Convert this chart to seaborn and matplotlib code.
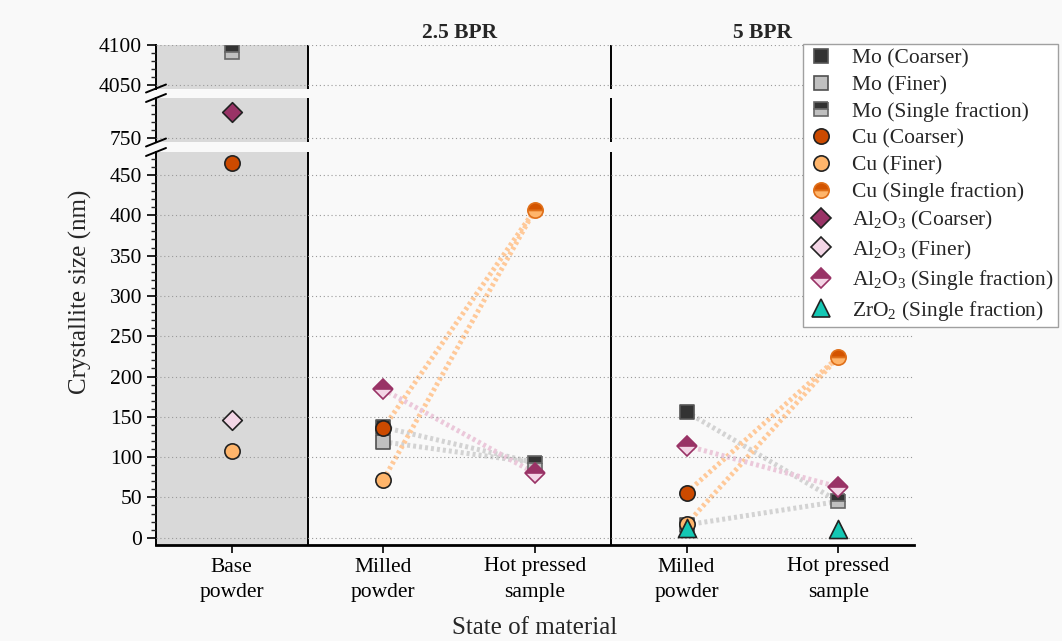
import numpy as np
import pandas as pd
import matplotlib.pyplot as plt
import seaborn as sns
from matplotlib.lines import Line2D
from matplotlib.transforms import blended_transform_factory

nan = np.nan

STATES = ["Base\npowder", "Milled\npowder", "Hot pressed\nsample", "Milled\npowder", "Hot pressed\nsample"]
GROUPS = ["2.5 BPR", "5 BPR"]

# crystallite size (nm) per state, in STATES order
mo_coarser = [nan, 137, nan, 156, nan]
mo_finer = [nan, 119, nan, 16, nan]
mo_single = [4091, nan, 93, nan, 45]
cu_coarser = [465, 136, nan, 56, nan]
cu_finer = [108, 72, nan, 17, nan]
cu_single = [nan, nan, 407, nan, 224]
al_coarser = [782, nan, nan, nan, nan]
al_finer = [146, nan, nan, nan, nan]
al_single = [nan, 184, 80, 114, 63]
zr_single = [nan, nan, nan, 12, 11]

# label, values, marker, size, face, alt face (half filled), edge
series = [
    ("Mo (Coarser)", mo_coarser, "s", 10, "#333333", None, "#555555"),
    ("Mo (Finer)", mo_finer, "s", 10, "#C0C0C0", None, "#505050"),
    ("Mo (Single fraction)", mo_single, "s", 10, "#333333", "#C0C0C0", "#666666"),
    ("Cu (Coarser)", cu_coarser, "o", 11, "#CC4A00", None, "#222222"),
    ("Cu (Finer)", cu_finer, "o", 11, "#FFB56B", None, "#222222"),
    ("Cu (Single fraction)", cu_single, "o", 11, "#D35400", "#FFB56B", "#E0701A"),
    (r"Al$_2$O$_3$ (Coarser)", al_coarser, "D", 10, "#993366", None, "#222222"),
    (r"Al$_2$O$_3$ (Finer)", al_finer, "D", 10, "#F3D6E6", None, "#222222"),
    (r"Al$_2$O$_3$ (Single fraction)", al_single, "D", 10, "#993366", "#F3D6E6", "#993366"),
    (r"ZrO$_2$ (Single fraction)", zr_single, "^", 13, "#14C8B4", None, "#222222"),
]

# milled -> hot pressed links (coarser, finer, single) -> single
link_sets = [
    ("#D3D3D3", mo_coarser, mo_finer, mo_single),
    ("#FFC999", cu_coarser, cu_finer, cu_single),
    ("#EBC8DA", [nan] * 5, [nan] * 5, al_single),
]
group_idx = [(1, 2), (3, 4)]

sns.set_theme(style="white")
plt.rcParams["font.family"] = ["Liberation Serif", "DejaVu Serif"]
plt.rcParams["mathtext.fontset"] = "custom"
plt.rcParams["mathtext.rm"] = "Liberation Serif"
plt.rcParams["mathtext.it"] = "Liberation Serif:italic"

W, H = 1062, 641
fig = plt.figure(figsize=(W / 100, H / 100), dpi=100, facecolor="#F9F9F9")

x0, x1 = 156, 914
left, width = x0 / W, (x1 - x0) / W
ax_top = fig.add_axes([left, 1 - 88.5 / H, width, 43.5 / H])
ax_mid = fig.add_axes([left, 1 - 142.5 / H, width, 44.5 / H])
ax_bot = fig.add_axes([left, 1 - 545 / H, width, 393 / H])
axes = [ax_top, ax_mid, ax_bot]

ax_top.set_ylim(4046, 4100)
ax_mid.set_ylim(744, 799.3)
ax_bot.set_ylim(-9, 478.5)
ax_top.set_yticks([4050, 4100])
ax_top.set_yticks(np.arange(4050, 4100, 10), minor=True)
ax_mid.set_yticks([750])
ax_mid.set_yticks(np.arange(750, 800, 10), minor=True)
ax_bot.set_yticks(np.arange(0, 451, 50))
ax_bot.set_yticks(np.arange(0, 471, 10), minor=True)

x = np.arange(len(STATES))
links = []
pair = 0
for color, coarse, fine, single in link_sets:
    for m, h in group_idx:
        for src in (coarse, fine, single):
            if not np.isnan(src[m]) and not np.isnan(single[h]):
                links.append({"x": m, "y": src[m], "pair": pair, "color": color})
                links.append({"x": h, "y": single[h], "pair": pair, "color": color})
                pair += 1
links = pd.DataFrame(links)

for ax in axes:
    ax.set_facecolor("#F9F9F9")
    ax.set_xlim(-0.5, 4.5)
    ax.axvspan(-0.5, 0.5, color="#D9D9D9", zorder=0.2, lw=0)
    for xv in (0.5, 2.5):
        ax.axvline(xv, color="black", lw=1.4, zorder=1)
    ax.yaxis.grid(True, linestyle=(0, (1, 2.5)), color="#9A9A9A", lw=0.8)
    ax.set_axisbelow(False)
    for s in ("top", "right"):
        ax.spines[s].set_visible(False)
    ax.spines["left"].set_color("black")
    ax.spines["left"].set_linewidth(1.4)
    ax.tick_params(axis="y", which="major", direction="out", length=6.5, width=1.2,
                   labelsize=15.5, pad=3.5, left=True, colors="black")
    ax.tick_params(axis="y", which="minor", direction="out", length=3.5, width=1.0, left=True)

    for color in links["color"].unique():
        sub = links[links["color"] == color]
        sns.lineplot(data=sub, x="x", y="y", units="pair", estimator=None, sort=False,
                     ax=ax, color=color, lw=3.6, linestyle=(0, (0.6, 0.6)),
                     dash_capstyle="butt", zorder=2, legend=False)

    for label, vals, mk, ms, face, alt, edge in series:
        if alt is None:
            sns.scatterplot(x=x, y=vals, ax=ax, marker=mk, s=ms ** 2, color=face,
                            edgecolor=edge, linewidth=1.2, zorder=3, legend=False)
        else:
            ax.plot(x, vals, linestyle="none", marker=mk, ms=ms, fillstyle="top",
                    markerfacecolor=face, markerfacecoloralt=alt,
                    markeredgecolor=edge, mew=1.2, zorder=3)
    ax.set_xlabel("")
    ax.set_ylabel("")

for ax in (ax_top, ax_mid):
    ax.spines["bottom"].set_visible(False)
    ax.set_xticks([])

ax_bot.spines["bottom"].set_color("black")
ax_bot.spines["bottom"].set_linewidth(2)
ax_bot.set_xticks(x)
ax_bot.set_xticklabels(STATES, linespacing=1.5)
ax_bot.tick_params(axis="x", direction="out", length=6, width=1.2, labelsize=15.5,
                   pad=3, bottom=True, colors="black")

# axis break marks on the left spine
for yp in (88.5, 98, 142.5, 152):
    fig.add_artist(Line2D([(x0 - 10) / W, (x0 + 10) / W], [1 - (yp + 4) / H, 1 - (yp - 4) / H],
                          transform=fig.transFigure, color="black", lw=1.4))

trans = blended_transform_factory(ax_top.transData, fig.transFigure)
for g, xc in zip(GROUPS, (1.5, 3.5)):
    ax_top.text(xc, 1 - 33 / H, g, transform=trans, ha="center", va="center",
                fontsize=15.5, fontweight="bold")

fig.text(80 / W, 1 - 292 / H, "Crystallite size (nm)", rotation=90, ha="center",
         va="center", fontsize=18)
fig.text((x0 + x1) / 2 / W, 1 - 628 / H, "State of material", ha="center",
         va="center", fontsize=18)

handles = []
for label, vals, mk, ms, face, alt, edge in series:
    if alt is None:
        handles.append(Line2D([], [], linestyle="none", marker=mk, ms=ms, markerfacecolor=face,
                              markeredgecolor=edge, mew=1.2, label=label))
    else:
        handles.append(Line2D([], [], linestyle="none", marker=mk, ms=ms, fillstyle="top",
                              markerfacecolor=face, markerfacecoloralt=alt,
                              markeredgecolor=edge, mew=1.2, label=label))
leg = fig.legend(handles=handles, loc="upper right", bbox_to_anchor=(1058 / W, 1 - 44 / H),
                 fontsize=15.5, frameon=True, fancybox=False, framealpha=1,
                 facecolor="white", edgecolor="#A0A0A0", labelspacing=0.31,
                 handlelength=1.25, handletextpad=0.85, borderpad=0.2, borderaxespad=0)
leg.get_frame().set_linewidth(1.0)

fig.savefig("out.png", dpi=100, facecolor=fig.get_facecolor())
